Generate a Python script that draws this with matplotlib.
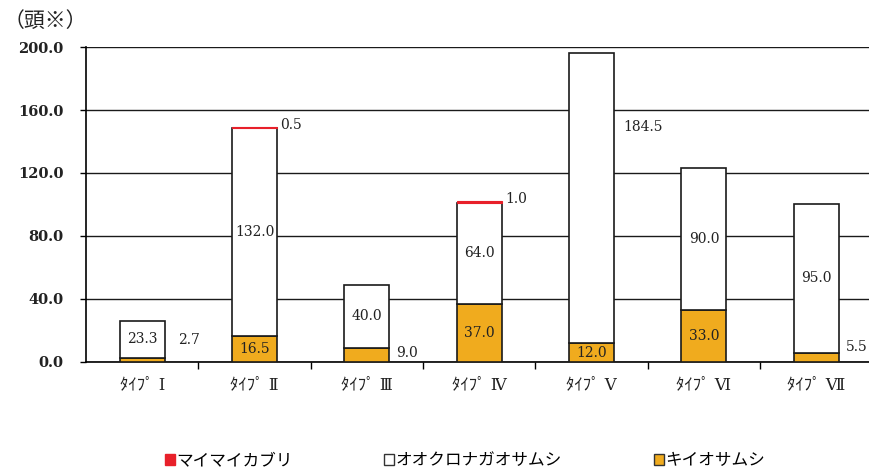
import matplotlib
matplotlib.use('Agg')
import matplotlib.pyplot as plt
from matplotlib.patches import Patch
import numpy as np

plt.rcParams['font.family'] = ['Noto Sans CJK JP', 'DejaVu Sans']

types = ['ﾀｲﾌﾟ Ⅰ', 'ﾀｲﾌﾟ Ⅱ', 'ﾀｲﾌﾟ Ⅲ', 'ﾀｲﾌﾟ Ⅳ', 'ﾀｲﾌﾟ Ⅴ', 'ﾀｲﾌﾟ Ⅵ', 'ﾀｲﾌﾟ Ⅶ']
kiio = [2.7, 16.5, 9.0, 37.0, 12.0, 33.0, 5.5]          # キイオサムシ
ookuro = [23.3, 132.0, 40.0, 64.0, 184.5, 90.0, 95.0]   # オオクロナガオサムシ
maimai = [0.0, 0.5, 0.0, 1.0, 0.0, 0.0, 0.0]            # マイマイカブリ

yellow = '#f0ab1e'
red = '#e8202a'
numfont = dict(family='DejaVu Serif', fontsize=10, color='#222222')

fig = plt.figure(figsize=(8.69, 4.75), dpi=100)
ax = fig.add_axes([0.099, 0.238, 0.905, 0.663])

x = np.arange(len(types))
w = 0.4
kiio = np.array(kiio)
ookuro = np.array(ookuro)
maimai = np.array(maimai)

ax.bar(x, kiio, w, color=yellow, edgecolor='#1a1a1a', lw=1.2, zorder=3)
ax.bar(x, ookuro, w, bottom=kiio, color='white', edgecolor='#1a1a1a', lw=1.2, zorder=3)
top = kiio + ookuro
for i in range(len(x)):
    if maimai[i] > 0:
        ax.bar(x[i], maimai[i], w, bottom=top[i], color=red, edgecolor=red, lw=0.8, zorder=4)

# labels: small segments go beside the bar
for i in range(len(x)):
    if kiio[i] >= 10:
        ax.text(x[i], kiio[i] / 2, '%.1f' % kiio[i], ha='center', va='center', zorder=5, **numfont)
    else:
        yy = {0: 14.0, 2: 6.0, 6: 9.5}[i]
        ax.text(x[i] + w / 2 + 0.06 if i != 0 else x[i] + w / 2 + 0.12, yy, '%.1f' % kiio[i],
                ha='left', va='center', zorder=5, **numfont)
    if ookuro[i] > 150:
        ax.text(x[i] + w / 2 + 0.08, 149, '%.1f' % ookuro[i], ha='left', va='center', zorder=5, **numfont)
    else:
        ax.text(x[i], kiio[i] + ookuro[i] / 2, '%.1f' % ookuro[i], ha='center', va='center',
                zorder=5, **numfont)
    if maimai[i] > 0:
        ax.text(x[i] + w / 2 + 0.03, top[i] + maimai[i] + 1.5, '%.1f' % maimai[i],
                ha='left', va='center', zorder=5, **numfont)

ax.set_xlim(-0.5, len(types) - 0.5)
ax.set_ylim(0, 200)
ax.set_yticks(np.arange(0, 201, 40))
ax.set_yticklabels(['%.1f' % v for v in np.arange(0, 201, 40)],
                   family='DejaVu Serif', fontsize=10.5, fontweight='bold', color='#222222')
ax.yaxis.grid(True, color='#1a1a1a', lw=1.0, zorder=0)
ax.set_axisbelow(True)
ax.tick_params(axis='y', length=4, pad=12, width=1)

ax.set_xticks(x)
ax.set_xticklabels(types, fontsize=12, color='#222222', family=['DejaVu Serif', 'Noto Sans CJK JP'])
ax.set_xticks(np.arange(0.5, len(types) - 0.5, 1), minor=True)
ax.tick_params(axis='x', which='major', length=0, pad=10)
ax.tick_params(axis='x', which='minor', length=5, width=1, direction='out')

for s in ['top', 'right']:
    ax.spines[s].set_visible(False)
ax.spines['left'].set_linewidth(1.2)
ax.spines['bottom'].set_linewidth(1.2)

fig.text(0.004, 0.955, '（頭※）', fontsize=15, va='center', ha='left', color='#222222')

handles = [Patch(facecolor=red, edgecolor=red),
           Patch(facecolor='white', edgecolor='#333333'),
           Patch(facecolor=yellow, edgecolor='#333333')]
names = ['マイマイカブリ', 'オオクロナガオサムシ', 'キイオサムシ']
fig.legend(handles, names, loc='center', bbox_to_anchor=(0.535, 0.03), ncol=3, frameon=False,
           fontsize=12, handlelength=0.6, handleheight=0.6, handletextpad=0.1, columnspacing=5.5)

fig.savefig('out.png', dpi=100)
